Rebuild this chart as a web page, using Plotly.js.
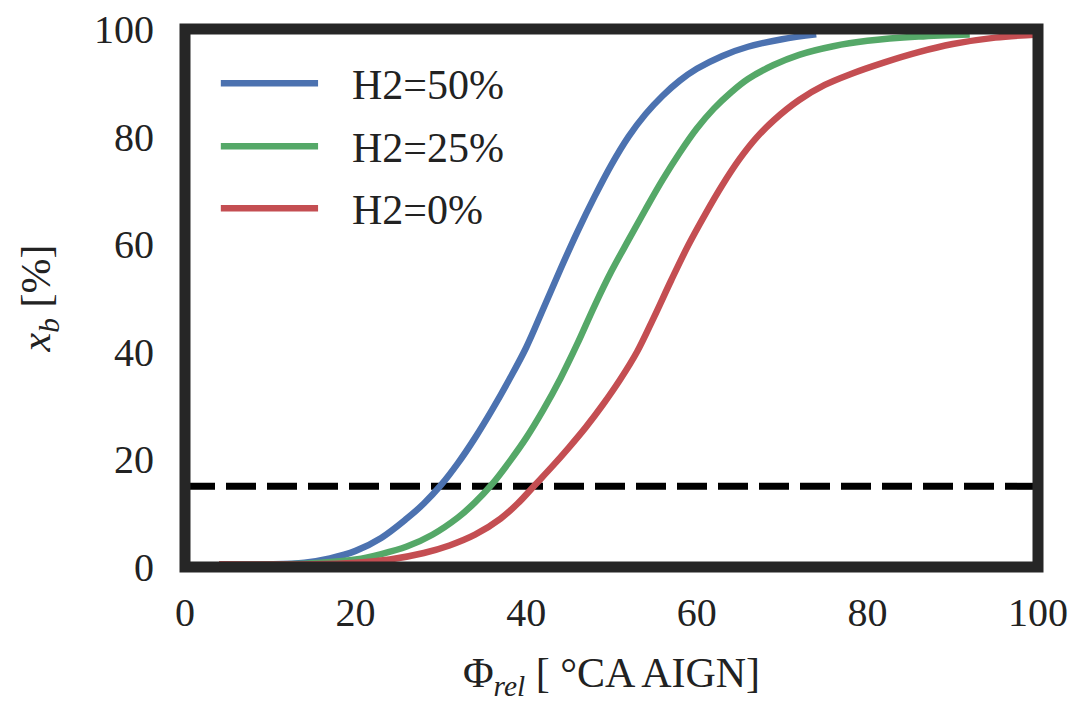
<!DOCTYPE html>
<html>
<head>
<meta charset="utf-8">
<script src="https://cdn.plot.ly/plotly-3.0.1.min.js"></script>
<style>
  html, body { margin: 0; padding: 0; background: #ffffff; }
  #chart { width: 1080px; height: 702px; }
</style>
</head>
<body>
<div id="chart"></div>
<script>
// Mass fraction burned vs. relative crank angle for three hydrogen shares
const seriesNames = ["H2=50%", "H2=25%", "H2=0%"];
const seriesColors = ["#4c72b0", "#55a868", "#c44e52"];

const phiH2_50 = [4, 10, 14, 17, 20, 23, 26, 28, 30, 32, 34, 36, 38, 40, 42, 44, 46, 48, 50, 52, 54, 56, 58, 60, 63, 66, 70, 74];
const xbH2_50  = [0.5, 0.5, 0.8, 1.6, 3.0, 5.4, 9.0, 11.8, 15.2, 19.3, 24.0, 29.2, 34.8, 40.8, 48.0, 55.3, 62.3, 68.8, 74.8, 80.0, 84.2, 87.6, 90.4, 92.6, 95.0, 96.7, 98.1, 99.0];

const phiH2_25 = [4, 12, 16, 20, 23, 26, 29, 32, 34, 36, 38, 40, 42, 44, 46, 48, 50, 52, 54, 56, 58, 60, 62, 64, 66, 69, 72, 76, 80, 86, 92];
const xbH2_25  = [0.5, 0.5, 0.8, 1.4, 2.4, 3.8, 6.0, 9.2, 12.0, 15.4, 19.5, 24.0, 29.2, 35.0, 41.5, 48.5, 55.0, 60.8, 66.5, 72.0, 77.0, 81.5, 85.2, 88.2, 90.7, 93.3, 95.2, 96.8, 97.8, 98.6, 99.0];

const phiH2_0 = [4, 15, 20, 24, 28, 31, 34, 37, 39, 41, 43, 45, 47, 49, 51, 53, 55, 57, 59, 61, 63, 65, 67, 69, 72, 75, 78, 82, 86, 90, 95, 100];
const xbH2_0  = [0.5, 0.5, 0.8, 1.4, 2.6, 4.0, 6.0, 9.0, 11.8, 15.2, 18.6, 22.2, 26.0, 30.2, 34.8, 40.0, 46.5, 53.3, 59.8, 65.6, 71.0, 75.8, 79.8, 83.0, 86.8, 89.6, 91.6, 93.8, 95.7, 97.2, 98.4, 99.0];

// Horizontal reference level and axis extent
const thresholdLevel = 15;
const axisRange = [0, 100];
const tickValues = [0, 20, 40, 60, 80, 100];

const phiSets = [phiH2_50, phiH2_25, phiH2_0];
const xbSets = [xbH2_50, xbH2_25, xbH2_0];

const serif = "Liberation Serif, Times New Roman, serif";
const textColor = "#222222";

const traces = [];
// dashed reference line
traces.push({
  x: axisRange.slice(),
  y: [thresholdLevel, thresholdLevel],
  mode: "lines",
  line: { color: "#000000", width: 7, dash: "30px,11px" },
  showlegend: false,
  hoverinfo: "skip"
});
for (let i = 0; i < seriesNames.length; i++) {
  traces.push({
    x: phiSets[i],
    y: xbSets[i],
    name: seriesNames[i],
    mode: "lines",
    line: { color: seriesColors[i], width: 6.5, shape: "spline", smoothing: 1 },
    showlegend: false
  });
}

// Hand-placed legend: long line swatches with labels at the upper left
const legendRowsY = [0.899, 0.782, 0.667];
const shapes = [];
const annotations = [];
for (let i = 0; i < seriesNames.length; i++) {
  shapes.push({
    type: "line", xref: "paper", yref: "paper",
    x0: 0.042, x1: 0.156, y0: legendRowsY[i], y1: legendRowsY[i],
    line: { color: seriesColors[i], width: 6.5 }
  });
  annotations.push({
    xref: "paper", yref: "paper",
    x: 0.194, y: legendRowsY[i] - 0.004,
    xanchor: "left", yanchor: "middle",
    text: seriesNames[i], showarrow: false,
    font: { family: serif, size: 42, color: textColor }
  });
}
// Heavy frame around the plotting area
shapes.push({
  type: "rect", xref: "paper", yref: "paper",
  x0: 0, x1: 1, y0: 0, y1: 1,
  line: { color: "#262626", width: 11 },
  layer: "above"
});

const layout = {
  width: 1080,
  height: 702,
  margin: { l: 184.5, r: 41.5, t: 28.5, b: 134.5 },
  paper_bgcolor: "#ffffff",
  plot_bgcolor: "#ffffff",
  showlegend: false,
  xaxis: {
    range: axisRange,
    tickvals: tickValues,
    showgrid: false, zeroline: false, showline: false,
    ticks: "", ticklabelstandoff: 18,
    tickfont: { family: serif, size: 40, color: textColor },
    title: {
      text: "Φ<sub><i>rel</i></sub> [ °CA AIGN]",
      font: { family: serif, size: 42, color: textColor },
      standoff: 28
    },
    automargin: false
  },
  yaxis: {
    range: axisRange,
    tickvals: tickValues,
    showgrid: false, zeroline: false, showline: false,
    ticks: "", ticklabelstandoff: 30,
    tickfont: { family: serif, size: 40, color: textColor },
    title: {
      text: "<i>x<sub>b</sub></i> [%]",
      font: { family: serif, size: 42, color: textColor },
      standoff: 30
    },
    automargin: false
  },
  shapes: shapes,
  annotations: annotations
};

Plotly.newPlot("chart", traces, layout, { displayModeBar: false, staticPlot: true });
</script>
</body>
</html>
